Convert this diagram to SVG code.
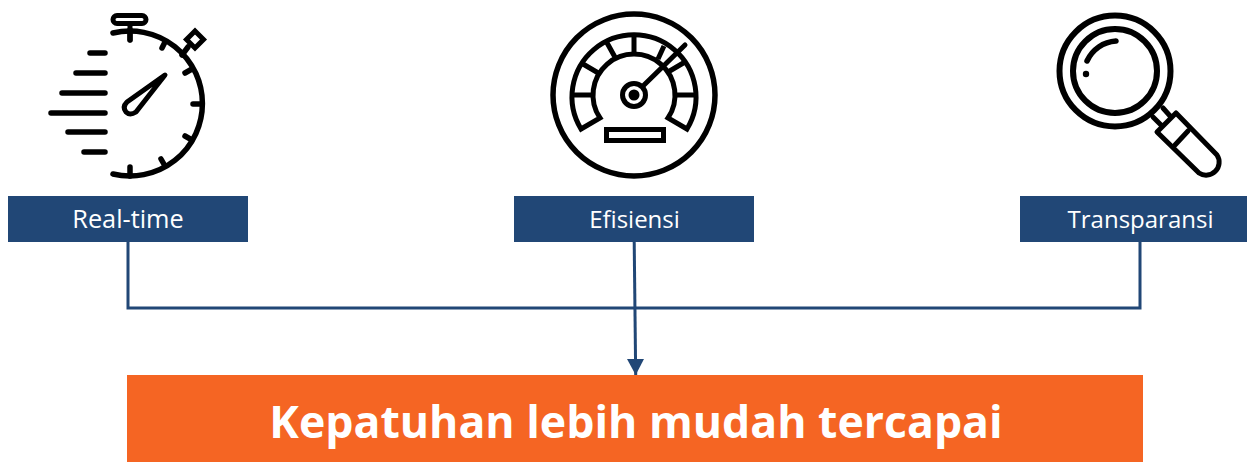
<svg xmlns="http://www.w3.org/2000/svg" width="1247" height="462" viewBox="0 0 1247 462">
<style>
.ic{fill:none;stroke:#000;stroke-linecap:round;stroke-linejoin:round}
.box{fill:#214776}
.lbl{font-family:"Open Sans","Noto Sans",sans-serif;font-size:24px;fill:#fff;text-anchor:middle}
.con{fill:none;stroke:#214776;stroke-width:3}
</style>
<defs><marker id="ah" markerUnits="userSpaceOnUse" markerWidth="17" markerHeight="18" refX="16" refY="8.5" orient="auto"><path d="M0 0L16 8.5L0 17Z" fill="#214776"/></marker></defs>
<rect width="1247" height="462" fill="#fff"/>
<g id="connectors">
<path class="con" d="M128 242V308H1140V242"/>
<path class="con" d="M634.2 242L635.7 375" marker-end="url(#ah)"/>
</g>
<g id="node-realtime">
<g class="ic" stroke-width="5.500">
<path d="M113 33A72.500 72.500 0 1 1 113 174"/>
<path d="M130 30V40M130 167V176M162 48L165 42M185 73L192 69M193 104H201M185 136L192 140M161 159L165 166"/>
<path d="M182 55L188 47"/>
<path d="M130 24V40" stroke-width="5"/>
<rect x="113" y="15.500" width="33" height="8" rx="4" stroke-width="5"/>
<path d="M195 31L203.500 39.500L195 48L186.500 39.500Z" stroke-width="5" stroke-linejoin="miter"/>
<path d="M165 75L127 102Q122 107 126 112Q130 116 136 112Z" stroke-width="5"/>
<path d="M90 53H105M76 73H105M62 93H105M51 113H105M68 132H105M84 152H105"/>
</g>
<rect class="box" x="8" y="196" width="240" height="46"/>
<text class="lbl" x="128" y="228" style="font-size:25.300px">Real-time</text>
</g>
<g id="node-efisiensi">
<g class="ic" stroke-width="5.500" stroke-linecap="butt">
<circle cx="634" cy="95" r="81"/>
<path d="M581 129L600 118A41 41 0 1 1 668 118L687 129A62 62 0 1 0 581 129Z" stroke-width="5" stroke-linejoin="miter"/>
<path d="M574 95H594M634 33V54M606 41L616 59M583 64L600 74M664 46L658 59M685 62L668 72M694 95H674" stroke-width="5" stroke-linecap="butt"/>
<path d="M685 45L644 85" stroke-width="5"/>
<circle cx="634" cy="95" r="11.500" stroke-width="5" fill="#fff"/>
<rect x="606.500" y="129.500" width="57" height="11" stroke-width="5" stroke-linejoin="miter"/>
</g>
<circle cx="634" cy="95" r="5.500"/>
<rect class="box" x="514" y="196" width="240" height="46"/>
<text class="lbl" x="634.500" y="228">Efisiensi</text>
</g>
<g id="node-transparansi">
<g class="ic" stroke-width="6">
<circle cx="1115" cy="71" r="55.500"/>
<circle cx="1115" cy="71" r="42"/>
<path d="M1087 61A34 34 0 0 1 1116 41" stroke-width="5.500"/>
<path d="M1157 132L1176 113L1217 155A13 13 0 0 1 1199 173ZM1175 145L1188 131M1153 117L1161 125M1163 108L1171 117" stroke-width="5"/>
</g>
<circle cx="1086" cy="74" r="3.200"/>
<rect class="box" x="1020" y="196" width="227" height="46"/>
<text class="lbl" x="1140.500" y="228">Transparansi</text>
</g>
<g id="node-kepatuhan">
<rect x="127" y="375" width="1016" height="87" fill="#f56523"/>
<text x="636" y="438" font-family="'Open Sans','Noto Sans',sans-serif" font-size="44.600" font-weight="700" fill="#fff" text-anchor="middle">Kepatuhan lebih mudah tercapai</text>
</g>
</svg>
